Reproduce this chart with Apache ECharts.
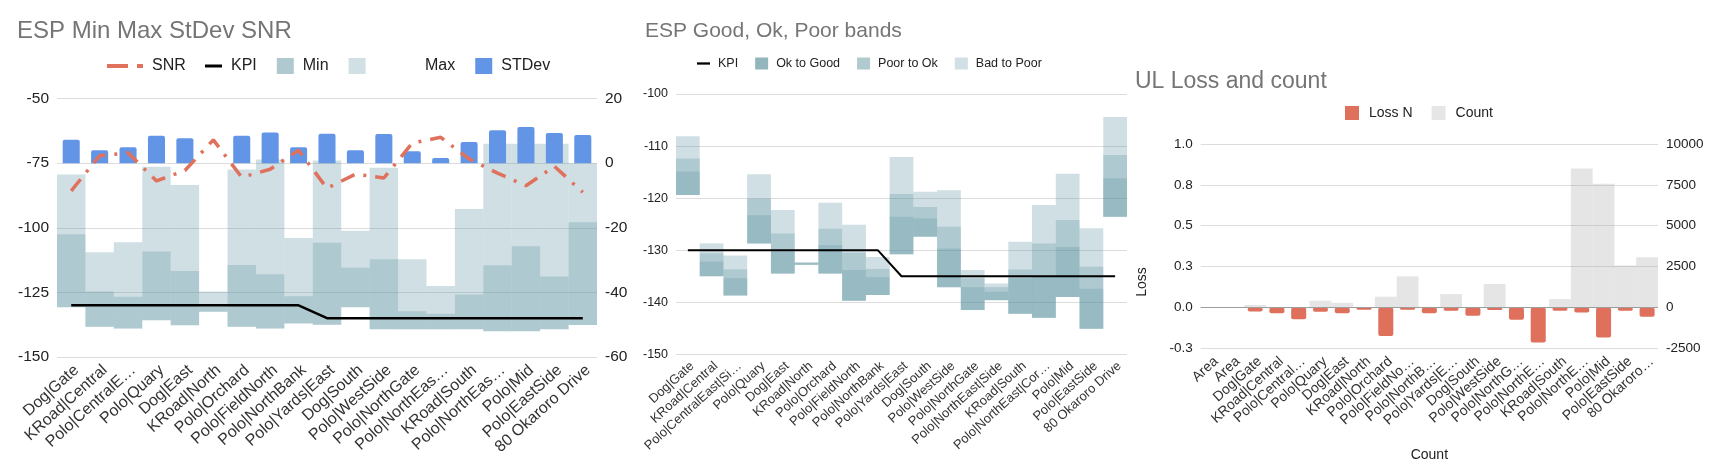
<!DOCTYPE html>
<html lang="en">
<head>
<meta charset="UTF-8">
<title>ESP and UL charts</title>
<script src="https://cdn.jsdelivr.net/npm/echarts@6/dist/echarts.min.js"></script>
<style>
  html, body { margin: 0; padding: 0; background: #fff; }
  #app { width: 1726px; height: 474px; }
</style>
</head>
<body>
<div id="app"></div>
<script>
// ---------- left: ESP Min Max StDev SNR ----------
var espSites = ['Dog|Gate', 'KRoad|Central', 'Polo|CentralE…', 'Polo|Quary', 'Dog|East', 'KRoad|North',
  'Polo|Orchard', 'Polo|FieldNorth', 'Polo|NorthBank', 'Polo|Yards|East', 'Dog|South', 'Polo|WestSide',
  'Polo|NorthGate', 'Polo|NorthEas…', 'KRoad|South', 'Polo|NorthEas…', 'Polo|Mid', 'Polo|EastSide', '80 Okaroro Drive'];
var espMax = [-79.4, -109.5, -105.6, -76.4, -83.5, -124.7, -77.5, -73.6, -104.0, -74.0,
  -101.2, -76.8, -112.2, -122.5, -92.7, -67.5, -67.5, -67.5, -75.0];
var espMin = [-102.5, -124.7, -126.7, -109.2, -116.7, -130.5, -114.4, -118.0, -126.5, -105.8,
  -115.5, -112.2, -132.3, -133.3, -125.8, -114.5, -107.2, -118.9, -97.9];
var espFloor = [-130.8, -138.3, -139.0, -135.8, -137.7, -132.5, -138.3, -139.0, -137.0, -137.5,
  -130.8, -139.3, -139.3, -139.3, -139.3, -140.0, -140.0, -139.3, -137.6];
var espStdev = [7.2, 4.0, 4.9, 8.5, 7.7, 0, 8.5, 9.5, 4.9, 9.1, 4.0, 9.0, 3.7, 1.6, 6.5, 10.2, 11.2, 9.3, 8.7];
var espSnr = [-8.6, 2.3, 3.2, -5.5, -2.3, 7.2, -4.4, -1.9, 4.0, -7.8, -3.4, -4.6, 6.2, 8.0, 1.3, -3.1, -7.0, -1.0, -9.0];
var espKpi = [-130, -130, -130, -130, -130, -130, -130, -130, -130,
  -135, -135, -135, -135, -135, -135, -135, -135, -135, -135];

// ---------- middle: ESP Good, Ok, Poor bands ----------
var bandSites = ['Dog|Gate', 'KRoad|Central', 'Polo|CentralEast|Si…', 'Polo|Quary', 'Dog|East', 'KRoad|North',
  'Polo|Orchard', 'Polo|FieldNorth', 'Polo|NorthBank', 'Polo|Yards|East', 'Dog|South', 'Polo|WestSide',
  'Polo|NorthGate', 'Polo|NorthEast|Side', 'KRoad|South', 'Polo|NorthEast|Cor…', 'Polo|Mid', 'Polo|EastSide', '80 Okaroro Drive'];
var badTop = [-108.1, -128.7, -131.0, -115.4, -122.3, -132.3, -120.9, -125.1, -131.3, -112.1,
  -118.8, -118.5, -133.8, -136.4, -128.4, -121.3, -115.3, -125.8, -104.4];
var poorTop = [-112.4, -130.6, -133.7, -120.1, -126.8, -132.4, -125.9, -130.5, -133.6, -119.2,
  -121.7, -125.5, -135.4, -137.1, -133.7, -128.7, -124.2, -133.2, -111.7];
var goodTop = [-114.9, -132.2, -135.4, -123.3, -130.3, -132.5, -129.0, -133.8, -135.2, -123.6,
  -123.9, -129.7, -137.1, -138.0, -135.4, -135.0, -129.4, -137.4, -116.2];
var bandFloor = [-119.4, -135.0, -138.7, -128.7, -134.5, -132.8, -134.5, -139.7, -138.6, -130.8,
  -127.4, -137.1, -141.5, -139.6, -142.2, -143.0, -139.0, -145.1, -123.6];
var bandKpi = [-130, -130, -130, -130, -130, -130, -130, -130, -130,
  -135, -135, -135, -135, -135, -135, -135, -135, -135, -135];

// ---------- right: UL Loss and count ----------
var ulSites = ['Area', 'Area', 'Dog|Gate', 'KRoad|Central', 'Polo|Central…', 'Polo|Quary', 'Dog|East',
  'KRoad|North', 'Polo|Orchard', 'Polo|FieldNo…', 'Polo|NorthB…', 'Polo|Yards|E…', 'Dog|South',
  'Polo|WestSide', 'Polo|NorthG…', 'Polo|NorthE…', 'KRoad|South', 'Polo|NorthE…', 'Polo|Mid',
  'Polo|EastSide', '80 Okaroro…'];
var ulLoss = [0, 0, -0.025, -0.035, -0.072, -0.027, -0.035, -0.014, -0.174, -0.014, -0.035,
  -0.02, -0.051, -0.016, -0.076, -0.215, -0.02, -0.031, -0.184, -0.02, -0.057];
var ulCount = [0, 0, 150, 0, 0, 410, 280, 0, 655, 1905, 40, 819, 0, 1433, 0, 0, 512, 8495, 7574, 2559, 3070];

var FONT = '"Liberation Sans", Arial, sans-serif';
var BAND = 'rgba(95,148,162,0.3)';
var CLEAR = 'rgba(0,0,0,0)';
var GRIDLINE = '#dcdcdc';
// legend glyphs: dash-dot for SNR, short bars for KPI
var SNR_ICON = 'path://M0,0h21v4h-21zM30,0h6v4h-6z';
var KPI_ICON = 'path://M0,0h17v3h-17z';

// height of a band that hangs down from its top to the floor
function drop(floor, top) {
  return floor.map(function (f, i) { return Math.round((f - top[i]) * 10) / 10; });
}

function band(name, stack, xi, yi, values) {
  return { name: name, type: 'bar', stack: stack, xAxisIndex: xi, yAxisIndex: yi, data: values,
    barCategoryGap: '0%', barGap: '-100%', silent: true, itemStyle: { color: BAND } };
}
function base(name, stack, xi, yi, values) {
  return { name: name, type: 'bar', stack: stack, xAxisIndex: xi, yAxisIndex: yi, data: values,
    barCategoryGap: '0%', barGap: '-100%', silent: true, itemStyle: { color: CLEAR } };
}

function catAxis(grid, data, size, show, margin) {
  return { gridIndex: grid, type: 'category', data: data, show: show,
    axisLine: { show: false }, axisTick: { show: false },
    axisLabel: { interval: 0, rotate: 42, fontSize: size, color: '#333', fontFamily: FONT,
      margin: margin || 8, verticalAlign: 'top' } };
}
function valAxis(grid, min, max, step, size, pos, split, fmt) {
  return { gridIndex: grid, type: 'value', min: min, max: max, interval: step, position: pos,
    axisLine: { show: false }, axisTick: { show: false },
    splitLine: { show: split, lineStyle: { color: GRIDLINE } },
    axisLabel: { fontSize: size, color: '#222', fontFamily: FONT, margin: 8,
      formatter: fmt || function (v) { return String(v); } } };
}

var chart = echarts.init(document.getElementById('app'));
var option = {
  animation: false,
  textStyle: { fontFamily: FONT },
  title: [
    { text: 'ESP Min Max StDev SNR', left: 17, top: 19, padding: 0,
      textStyle: { fontSize: 24, fontWeight: 'normal', color: '#757575', fontFamily: FONT } },
    { text: 'ESP Good, Ok, Poor bands', left: 645, top: 21, padding: 0,
      textStyle: { fontSize: 21, fontWeight: 'normal', color: '#757575', fontFamily: FONT } },
    { text: 'UL Loss and count', left: 1135, top: 70, padding: 0,
      textStyle: { fontSize: 23, fontWeight: 'normal', color: '#757575', fontFamily: FONT } }
  ],
  legend: [
    { data: [{ name: 'SNR', icon: SNR_ICON }], left: 107, top: 58, padding: 0, itemWidth: 36, itemHeight: 14,
      textStyle: { fontSize: 16, color: '#222', padding: [0, 0, 0, 4] } },
    { data: [
        { name: 'KPI', icon: KPI_ICON },
        { name: 'Min', icon: 'rect', itemStyle: { color: '#b0c9ce' } },
        { name: ' ', icon: 'rect', itemStyle: { color: '#d0e0e4' } },
        { name: 'Max', icon: 'rect' },
        { name: 'STDev', icon: 'rect' }],
      left: 205, top: 58, padding: 0, itemWidth: 17, itemHeight: 16, itemGap: 20,
      textStyle: { fontSize: 16, color: '#222', padding: [0, 0, 0, 4] } },
    { data: [
        { name: 'KPI', icon: KPI_ICON },
        { name: 'Ok to Good', icon: 'rect', itemStyle: { color: '#93b5bc' } },
        { name: 'Poor to Ok', icon: 'rect', itemStyle: { color: '#b0cacf' } },
        { name: 'Bad to Poor', icon: 'rect', itemStyle: { color: '#d0e0e4' } }],
      left: 697, top: 57, padding: 0, itemWidth: 13, itemHeight: 12, itemGap: 17,
      textStyle: { fontSize: 12.5, color: '#222', padding: [0, 0, 0, 3] } },
    { data: [
        { name: 'Loss N', icon: 'rect' },
        { name: 'Count', icon: 'rect', itemStyle: { color: '#e6e6e6' } }],
      left: 1345, top: 106, padding: 0, itemWidth: 14, itemHeight: 14, itemGap: 19,
      textStyle: { fontSize: 14, color: '#222', padding: [0, 0, 0, 5] } }
  ],
  grid: [
    { left: 57, top: 98.5, width: 540, height: 258.5, containLabel: false, outerBoundsMode: 'none' },
    { left: 676, top: 94, width: 451, height: 260.3, containLabel: false, outerBoundsMode: 'none' },
    { left: 1200.7, top: 144, width: 457.3, height: 204.3, containLabel: false, outerBoundsMode: 'none' }
  ],
  xAxis: [
    catAxis(0, espSites, 16, true, 5),
    catAxis(0, espSites, 16, false),
    catAxis(1, bandSites, 13, true, 5),
    Object.assign(catAxis(2, ulSites, 14, true, 6), {
      name: 'Count', nameLocation: 'middle', nameGap: 100,
      nameTextStyle: { fontSize: 14, color: '#222', fontFamily: FONT } }),
    catAxis(2, ulSites, 14, false)
  ],
  yAxis: [
    valAxis(0, -150, -50, 25, 15.5, 'left', true),
    valAxis(0, -60, 20, 20, 15.5, 'right', false),
    valAxis(1, -150, -100, 10, 12.5, 'left', true),
    valAxis(2, -0.25, 1, 0.25, 13.5, 'left', true, function (v) { return v.toFixed(1); }),
    valAxis(2, -2500, 10000, 2500, 13.5, 'right', false)
  ],
  graphic: [
    { type: 'text', x: 1142, y: 282, rotation: Math.PI / 2, silent: true,
      style: { text: 'Loss', fill: '#222', fontSize: 14, fontFamily: FONT, align: 'center', verticalAlign: 'middle' } }
  ],
  series: [
    // left chart
    base('Max', 'espMax', 0, 0, espMax),
    band(' ', 'espMax', 0, 0, drop(espFloor, espMax)),
    base('minBase', 'espMin', 0, 0, espMin),
    band('Min', 'espMin', 0, 0, drop(espFloor, espMin)),
    { name: 'STDev', type: 'bar', xAxisIndex: 1, yAxisIndex: 1, data: espStdev, barWidth: '60%', silent: true,
      itemStyle: { color: '#6395e6', borderRadius: [2, 2, 0, 0] } },
    { name: 'KPI', type: 'line', xAxisIndex: 0, yAxisIndex: 0, data: espKpi, symbol: 'none', silent: true,
      itemStyle: { color: '#000' }, lineStyle: { color: '#000', width: 2.5 } },
    { name: 'SNR', type: 'line', xAxisIndex: 0, yAxisIndex: 1, data: espSnr, symbol: 'none', silent: true,
      itemStyle: { color: '#e0725d' }, lineStyle: { color: '#e0725d', width: 3.5, type: [15, 9, 3, 9] } },

    // middle chart
    base('badBase', 'bad', 2, 2, badTop),
    band('Bad to Poor', 'bad', 2, 2, drop(bandFloor, badTop)),
    base('poorBase', 'poor', 2, 2, poorTop),
    band('Poor to Ok', 'poor', 2, 2, drop(bandFloor, poorTop)),
    base('goodBase', 'good', 2, 2, goodTop),
    band('Ok to Good', 'good', 2, 2, drop(bandFloor, goodTop)),
    { name: 'KPI', type: 'line', xAxisIndex: 2, yAxisIndex: 2, data: bandKpi, symbol: 'none', silent: true,
      itemStyle: { color: '#000' }, lineStyle: { color: '#000', width: 2 } },

    // right chart
    { name: 'Count', type: 'bar', xAxisIndex: 4, yAxisIndex: 4, data: ulCount, barCategoryGap: '0%', silent: true,
      itemStyle: { color: 'rgba(170,170,170,0.3)' } },
    { name: 'Loss N', type: 'bar', xAxisIndex: 3, yAxisIndex: 3, data: ulLoss, barCategoryGap: '31%', silent: true,
      itemStyle: { color: '#de705c', borderRadius: 2 },
      markLine: { silent: true, symbol: 'none', label: { show: false },
        lineStyle: { color: '#9e9e9e', type: 'solid', width: 1 }, data: [{ yAxis: 0 }] } }
  ]
};
chart.setOption(option);
</script>
</body>
</html>
